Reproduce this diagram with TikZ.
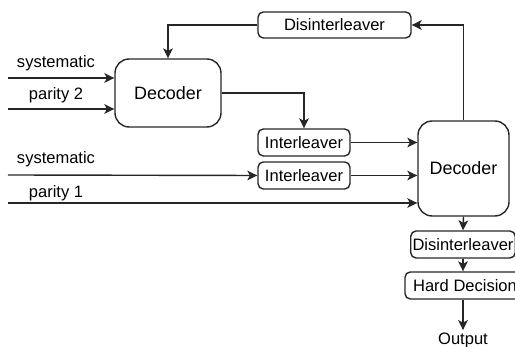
\documentclass[tikz,border=0pt]{standalone}
\usepackage{fontspec}
\setmainfont{Liberation Sans}
\usetikzlibrary{arrows.meta}

\begin{document}
\begin{tikzpicture}[x=0.02cm,y=-0.02cm,->,>={Stealth[length=5.7pt,width=5.5pt,inset=1.5pt]},line width=0.8pt,draw=black!85]
    \tikzstyle{blokk}=[draw,rounded corners=3pt,inner sep=1pt,font=\fontsize{9.4}{11}\selectfont]
    \tikzstyle{avkodare}=[blokk,rounded corners=8pt,font=\fontsize{10.2}{12}\selectfont]
    \tikzstyle{signal}=[font=\fontsize{9.4}{11}\selectfont]

    \useasboundingbox[-] (0,0) rectangle (515,347);
    \clip[-] (0,0) rectangle (515,347);

    \foreach \name / \y / \txt in {1/63/systematic, 2/95/parity 2, 3/159/systematic, 4/193/parity 1}
        \node[signal] (L-\name) at (56,\y) {\txt};
    \foreach \name / \y in {1/78, 2/109, 3/175, 4/203}
        \coordinate (I-\name) at (8,\y);

    \node[avkodare, minimum width=2.12cm, minimum height=1.36cm] (D-1) at (168,93) {Decoder};
    \node[avkodare, minimum width=1.82cm, minimum height=1.9cm] (D-2) at (463.5,168.5) {Decoder};
    \node[blokk, minimum width=3.06cm, minimum height=0.52cm] (DI-1) at (334.5,25) {Disinterleaver};
    \node[blokk, minimum width=1.84cm, minimum height=0.54cm] (IL-1) at (304,142.5) {Interleaver};
    \node[blokk, minimum width=1.84cm, minimum height=0.54cm] (IL-2) at (304,175.5) {Interleaver};
    \node[blokk, minimum width=2.08cm, minimum height=0.54cm] (DI-2) at (463,244.5) {Disinterleaver};
    \node[blokk, minimum width=2.4cm, minimum height=0.54cm] (HD) at (465,285.5) {Hard Decision};
    \node[signal, inner sep=1pt] (O) at (463,340) {Output};

    \draw (I-1) -- (I-1 -| D-1.west);
    \draw (I-2) -- (I-2 -| D-1.west);
    \draw (I-3) -- (IL-2.west);
    \draw (I-4) -- (I-4 -| D-2.west);
    \draw (D-1.east) -| (IL-1.north);
    \draw (IL-1.east) -- (IL-1.east -| D-2.west);
    \draw (IL-2.east) -- (IL-2.east -| D-2.west);
    \draw (D-2.north) |- (DI-1.east);
    \draw (DI-1.west) -| (D-1.north);
    \draw (D-2.south) -- (DI-2.north);
    \draw (DI-2.south) -- (HD.north -| DI-2.south);
    \draw (HD.south -| DI-2.south) -- (O.north);
\end{tikzpicture}
\end{document}
